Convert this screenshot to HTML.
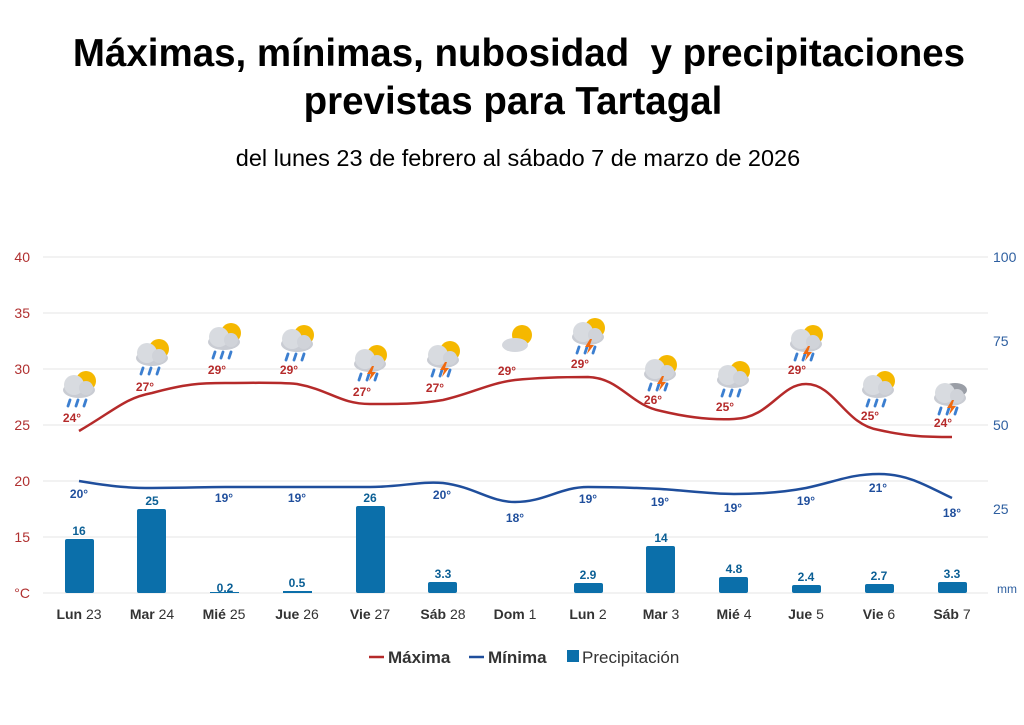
<!DOCTYPE html>
<html><head><meta charset="utf-8"><style>
body{margin:0;background:#fff;width:1024px;height:720px;overflow:hidden;font-family:"Liberation Sans",Arial,sans-serif}
</style></head><body>
<svg width="1024" height="720" xmlns="http://www.w3.org/2000/svg" font-family="Liberation Sans, Arial, sans-serif">
<defs>
<g id="sun"><circle cx="7" cy="-7" r="10" fill="#f5b800"/></g>
<g id="cloud"><ellipse cx="0" cy="2" rx="16" ry="8" fill="#c9ccd3"/><circle cx="-5" cy="-3" r="10" fill="#d8dbe0"/><circle cx="7" cy="0" r="7" fill="#d0d3d9"/></g>
<g id="rain"><path d="M-9 12 l-2 6 M-1 12 l-2 6 M7 12 l-2 6" stroke="#3c7fd0" stroke-width="2.8" stroke-linecap="round"/></g>
<g id="bolt"><path d="M2 4 l-5 8 h4 l-2 7 l7 -9 h-4 l2 -6z" fill="#f06a10"/></g>
<g id="ir"><use href="#sun"/><use href="#cloud"/><use href="#rain"/></g>
<g id="it"><use href="#sun"/><use href="#cloud"/><use href="#rain"/><use href="#bolt"/></g>
</defs>
<text x="519" y="66" text-anchor="middle" font-size="38.5" font-weight="bold" xml:space="preserve">Máximas, mínimas, nubosidad  y precipitaciones</text>
<text x="513" y="114" text-anchor="middle" font-size="38.5" font-weight="bold">previstas para Tartagal</text>
<text x="518" y="166" text-anchor="middle" font-size="23.5">del lunes 23 de febrero al sábado 7 de marzo de 2026</text>
<g stroke="#e6e6e6" stroke-width="1">
<line x1="43" x2="988" y1="257" y2="257"/><line x1="43" x2="988" y1="313" y2="313"/><line x1="43" x2="988" y1="369" y2="369"/><line x1="43" x2="988" y1="425" y2="425"/><line x1="43" x2="988" y1="481" y2="481"/><line x1="43" x2="988" y1="537" y2="537"/><line x1="43" x2="988" y1="593" y2="593"/>
</g>
<g fill="#b03030" font-size="14" text-anchor="end">
<text x="30" y="262">40</text><text x="30" y="318">35</text><text x="30" y="374">30</text><text x="30" y="430">25</text><text x="30" y="486">20</text><text x="30" y="542">15</text><text x="30" y="598">°C</text>
</g>
<g fill="#2e5fa0" font-size="14">
<text x="993" y="262">100</text><text x="993" y="346">75</text><text x="993" y="430">50</text><text x="993" y="514">25</text><text x="997" y="593" font-size="12">mm</text>
</g>
<g fill="#0b6faa">
<rect x="65" y="539" width="29" height="54" rx="2"/><rect x="137" y="509" width="29" height="84" rx="2"/><rect x="210" y="592" width="29" height="1"/><rect x="283" y="591" width="29" height="2"/><rect x="356" y="506" width="29" height="87" rx="2"/><rect x="428" y="582" width="29" height="11" rx="2"/><rect x="574" y="583" width="29" height="10" rx="2"/><rect x="646" y="546" width="29" height="47" rx="2"/><rect x="719" y="577" width="29" height="16" rx="2"/><rect x="792" y="585" width="29" height="8" rx="2"/><rect x="865" y="584" width="29" height="9" rx="2"/><rect x="938" y="582" width="29" height="11" rx="2"/>
</g>
<g fill="#0b5f95" font-size="12" font-weight="bold" text-anchor="middle">
<text x="79" y="535">16</text><text x="152" y="505">25</text><text x="225" y="592">0.2</text><text x="297" y="587">0.5</text><text x="370" y="502">26</text><text x="443" y="578">3.3</text><text x="588" y="579">2.9</text><text x="661" y="542">14</text><text x="734" y="573">4.8</text><text x="806" y="581">2.4</text><text x="879" y="580">2.7</text><text x="952" y="578">3.3</text>
</g>
<path fill="none" stroke="#b52a2a" stroke-width="2.5" d="M79 431 C115 410,125 398,152 393 C185 384,200 383,225 383 C255 383,275 382,297 384 C330 390,340 404,370 404 C400 404,420 404,443 400 C470 394,490 383,515 380 C545 377,570 377,588 377 C620 378,630 405,661 411 C690 418,715 420,734 419 C770 418,780 384,806 384 C835 384,845 425,879 430 C910 437,930 437,952 437"/>
<path fill="none" stroke="#1f4e9c" stroke-width="2.5" d="M79 481 C115 487,130 488,152 488 C190 488,200 487,225 487 C260 487,275 487,297 487 C330 487,345 487,370 487 C400 487,420 481,443 483 C475 487,490 502,515 502 C545 502,560 487,588 487 C620 487,640 488,661 489 C690 491,710 494,734 494 C760 494,785 492,806 488 C835 482,850 474,879 474 C910 474,930 488,952 498"/>
<g fill="#b52a2a" font-size="12" font-weight="bold" text-anchor="middle">
<text x="72" y="422">24°</text><text x="145" y="391">27°</text><text x="217" y="374">29°</text><text x="289" y="374">29°</text><text x="362" y="396">27°</text><text x="435" y="392">27°</text><text x="507" y="375">29°</text><text x="580" y="368">29°</text><text x="653" y="404">26°</text><text x="725" y="411">25°</text><text x="797" y="374">29°</text><text x="870" y="420">25°</text><text x="943" y="427">24°</text>
</g>
<g fill="#1f4e9c" font-size="12" font-weight="bold" text-anchor="middle">
<text x="79" y="498">20°</text><text x="224" y="502">19°</text><text x="297" y="502">19°</text><text x="442" y="499">20°</text><text x="515" y="522">18°</text><text x="588" y="503">19°</text><text x="660" y="506">19°</text><text x="733" y="512">19°</text><text x="806" y="505">19°</text><text x="878" y="492">21°</text><text x="952" y="517">18°</text>
</g>
<use href="#ir" x="79" y="388"/><use href="#ir" x="152" y="356"/><use href="#ir" x="224" y="340"/><use href="#ir" x="297" y="342"/><use href="#it" x="370" y="362"/><use href="#it" x="443" y="358"/>
<g transform="translate(515,342)"><use href="#sun"/><ellipse cx="0" cy="3" rx="13" ry="7" fill="#d4d7dd"/></g>
<use href="#it" x="588" y="335"/><use href="#it" x="660" y="372"/><use href="#ir" x="733" y="378"/><use href="#it" x="806" y="342"/><use href="#ir" x="878" y="388"/>
<g transform="translate(950,396)"><ellipse cx="5" cy="-6" rx="12" ry="7" fill="#9a9ea6"/><use href="#cloud"/><use href="#rain"/><use href="#bolt"/></g>
<g font-size="14" fill="#333" text-anchor="middle">
<text x="79" y="619"><tspan font-weight="bold">Lun</tspan> 23</text><text x="152" y="619"><tspan font-weight="bold">Mar</tspan> 24</text><text x="224" y="619"><tspan font-weight="bold">Mié</tspan> 25</text><text x="297" y="619"><tspan font-weight="bold">Jue</tspan> 26</text><text x="370" y="619"><tspan font-weight="bold">Vie</tspan> 27</text><text x="443" y="619"><tspan font-weight="bold">Sáb</tspan> 28</text><text x="515" y="619"><tspan font-weight="bold">Dom</tspan> 1</text><text x="588" y="619"><tspan font-weight="bold">Lun</tspan> 2</text><text x="661" y="619"><tspan font-weight="bold">Mar</tspan> 3</text><text x="734" y="619"><tspan font-weight="bold">Mié</tspan> 4</text><text x="806" y="619"><tspan font-weight="bold">Jue</tspan> 5</text><text x="879" y="619"><tspan font-weight="bold">Vie</tspan> 6</text><text x="952" y="619"><tspan font-weight="bold">Sáb</tspan> 7</text>
</g>
<line x1="369" x2="384" y1="657" y2="657" stroke="#b52a2a" stroke-width="2.5"/>
<text x="388" y="663" font-size="17" font-weight="bold" fill="#333">Máxima</text>
<line x1="469" x2="484" y1="657" y2="657" stroke="#1f4e9c" stroke-width="2.5"/>
<text x="488" y="663" font-size="17" font-weight="bold" fill="#333">Mínima</text>
<rect x="567" y="650" width="12" height="12" fill="#0b6faa"/>
<text x="582" y="663" font-size="17" fill="#333">Precipitación</text>
</svg>
</body></html>
